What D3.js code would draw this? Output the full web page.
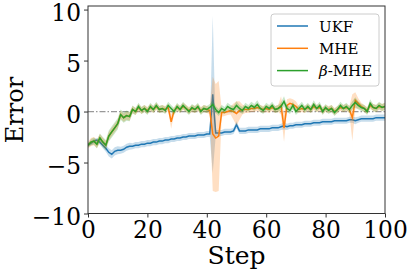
<!DOCTYPE html>
<html><head><meta charset="utf-8">
<script src="https://cdn.jsdelivr.net/npm/d3@7"></script>
<style>body{margin:0;background:#fff}svg{display:block}</style>
</head><body>
<script>
const steps = d3.range(0, 101);
const ukfMean = [-3.3,-3.1,-2.9,-2.8,-3.0,-3.3,-3.6,-4.0,-4.2,-3.9,-3.8,-3.8,-3.7,-3.5,-3.4,-3.4,-3.3,-3.3,-3.2,-3.2,
 -3.1,-3.1,-3.0,-3.0,-2.9,-2.9,-2.8,-2.8,-2.7,-2.7,-2.6,-2.6,-2.5,-2.5,-2.4,-2.4,-2.4,-2.3,-2.3,-2.3,
 -2.2,-2.2,1.7,-2.1,-2.1,-2.1,-2.0,-2.0,-2.0,-1.9,-1.3,-1.9,-1.9,-1.9,-1.8,-1.8,-1.8,-1.8,-1.7,-1.7,
 -1.7,-1.7,-1.6,-1.6,-1.6,-1.5,-1.4,-1.5,-1.4,-1.4,-1.3,-1.3,-1.3,-1.2,-1.2,-1.2,-1.1,-1.1,-1.1,-1.0,
 -1.0,-1.0,-1.0,-0.9,-0.9,-0.9,-0.9,-0.9,-0.8,-0.8,-0.9,-0.8,-0.7,-0.7,-0.7,-0.7,-0.7,-0.6,-0.6,-0.6,-0.6];
const ukfSpread = [0.2,0.2,0.2,0.2,0.25,0.3,0.35,0.4,0.4,0.4,0.4,0.35,0.35,0.35,0.35,0.3,0.3,0.3,0.3,0.3,
 0.3,0.3,0.3,0.3,0.3,0.3,0.3,0.3,0.3,0.3,0.3,0.3,0.3,0.3,0.3,0.3,0.3,0.3,0.3,0.3,
 0.3,0.3,7.7,0.3,0.3,0.3,0.3,0.3,0.3,0.3,0.35,0.3,0.3,0.3,0.3,0.3,0.3,0.3,0.3,0.3,
 0.3,0.3,0.3,0.3,0.3,0.3,0.35,0.3,0.3,0.3,0.3,0.3,0.3,0.3,0.3,0.3,0.3,0.3,0.3,0.3,
 0.3,0.3,0.3,0.3,0.3,0.3,0.3,0.3,0.3,0.3,0.35,0.3,0.3,0.3,0.3,0.3,0.3,0.3,0.3,0.3,0.3];
const mheMean = [-3.3,-3.0,-2.9,-3.2,-2.6,-3.0,-3.3,-2.4,-2.0,-1.6,-1.2,-0.3,-0.6,-0.4,-0.5,0.2,0.0,0.4,0.1,0.3,
 0.1,0.4,0.2,0.5,0.2,0.3,0.2,0.4,-1.0,0.1,0.4,0.2,0.5,0.3,0.1,0.3,0.2,0.4,0.1,0.3,
 0.2,0.1,-2.2,-2.6,-2.4,-0.1,-0.1,0.0,0.1,0.0,-0.2,0.1,0.2,0.2,0.2,0.3,0.3,0.4,0.3,0.2,
 0.3,0.2,0.4,0.2,0.3,0.6,-1.6,0.6,0.8,0.7,0.5,0.2,0.3,0.2,0.4,0.2,0.5,0.3,0.4,0.1,
 0.3,0.2,0.3,0.0,0.2,0.4,0.3,0.4,0.2,-0.6,1.1,0.8,0.5,0.3,0.1,0.6,0.4,0.3,0.5,0.4,0.5];
const mheSpread = [0.3,0.4,0.4,0.4,0.4,0.4,0.4,0.4,0.4,0.4,0.4,0.4,0.4,0.4,0.4,0.35,0.35,0.35,0.35,0.35,
 0.35,0.35,0.35,0.35,0.35,0.35,0.35,0.35,0.7,0.35,0.35,0.35,0.35,0.35,0.35,0.35,0.35,0.35,0.35,0.35,
 0.35,0.35,5.6,5.3,5.4,0.4,0.35,0.35,0.4,0.8,1.2,0.9,0.5,0.35,0.35,0.35,0.35,0.35,0.35,0.35,
 0.35,0.35,0.35,0.35,0.35,0.9,1.4,0.6,0.5,0.5,0.5,0.35,0.35,0.35,0.35,0.35,0.35,0.35,0.35,0.35,
 0.35,0.35,0.35,0.35,0.35,0.35,0.35,0.35,0.35,2.3,0.8,0.5,0.35,0.35,0.35,0.35,0.35,0.35,0.35,0.35,0.35];
const betaMean = [-3.3,-3.0,-2.9,-3.2,-2.6,-3.0,-3.3,-2.4,-2.0,-1.6,-1.2,-0.3,-0.6,-0.4,-0.5,0.2,0.0,0.5,0.1,0.3,
 0.0,0.5,0.2,0.6,0.2,0.3,0.1,0.6,0.3,0.0,0.5,0.2,0.6,0.3,0.0,0.4,0.2,0.5,0.0,0.3,
 0.2,0.4,0.7,0.2,-0.1,0.3,0.1,0.5,0.3,0.2,0.6,0.3,0.1,0.5,0.3,0.6,0.4,0.7,0.3,0.1,
 0.5,0.3,0.6,0.2,0.3,0.5,1.0,0.3,0.1,0.6,0.0,0.3,0.6,0.2,0.5,0.2,0.7,0.3,0.6,0.0,
 0.4,0.1,0.3,-0.1,0.2,0.6,0.3,0.5,0.2,0.6,0.9,0.6,0.4,0.3,0.0,0.8,0.4,0.3,0.6,0.4,0.5];
const betaSpread = [0.2,0.3,0.35,0.4,0.45,0.5,0.5,0.55,0.55,0.55,0.55,0.5,0.5,0.5,0.45,0.4,0.35,0.35,0.35,0.35,
 0.35,0.35,0.35,0.35,0.35,0.35,0.35,0.35,0.35,0.35,0.35,0.35,0.35,0.35,0.35,0.35,0.35,0.35,0.35,0.35,
 0.35,0.35,0.4,0.35,0.35,0.35,0.35,0.35,0.35,0.35,0.4,0.35,0.35,0.35,0.35,0.35,0.35,0.4,0.35,0.35,
 0.35,0.35,0.35,0.35,0.35,0.4,0.5,0.35,0.35,0.35,0.35,0.35,0.35,0.35,0.35,0.35,0.4,0.35,0.35,0.35,
 0.35,0.35,0.35,0.35,0.35,0.35,0.35,0.35,0.35,0.4,0.5,0.4,0.35,0.35,0.35,0.4,0.35,0.35,0.35,0.35,0.35];
const xTicks = [0, 20, 40, 60, 80, 100];
const yTicks = [-10, -5, 0, 5, 10];
const seriesNames = ["UKF", "MHE", "β-MHE"];
const colors = ["#1f77b4", "#ff7f0e", "#2ca02c"];

const W = 407, H = 274;
const svg = d3.select("body").append("svg").attr("width", W).attr("height", H);
const x = d3.scaleLinear().domain([0, 100]).range([88, 385]);
const y = d3.scaleLinear().domain([-10, 10.35]).range([213.5, 6]);
const font = "'DejaVu Serif', serif";

svg.append("clipPath").attr("id", "clip").append("rect")
  .attr("x", 88).attr("y", 6).attr("width", 297).attr("height", 207.5);
const plot = svg.append("g").attr("clip-path", "url(#clip)");

plot.append("line").attr("x1", 88).attr("x2", 385).attr("y1", y(0)).attr("y2", y(0))
  .attr("stroke", "#999").attr("stroke-width", 1.2).attr("stroke-dasharray", "6,2,1.5,2");

const series = [[ukfMean, ukfSpread], [mheMean, mheSpread], [betaMean, betaSpread]];
series.forEach(([m, s], i) => {
  const area = d3.area().x((d, j) => x(steps[j])).y0((d, j) => y(m[j] - s[j])).y1((d, j) => y(m[j] + s[j]));
  plot.append("path").attr("d", area(m)).attr("fill", colors[i]).attr("fill-opacity", 0.25).attr("stroke", "none");
  const line = d3.line().x((d, j) => x(steps[j])).y(d => y(d));
  plot.append("path").attr("d", line(m)).attr("fill", "none").attr("stroke", colors[i]).attr("stroke-width", 1.5);
});

const xAxis = svg.append("g").attr("transform", "translate(0,213.5)")
  .call(d3.axisBottom(x).tickValues(xTicks).tickSize(4).tickPadding(3));
const yAxis = svg.append("g").attr("transform", "translate(88,0)")
  .call(d3.axisLeft(y).tickValues(yTicks).tickSize(4).tickPadding(3).tickFormat(d => d < 0 ? "−" + Math.abs(d) : d));
[xAxis, yAxis].forEach(a => {
  a.selectAll("text").attr("font-family", font).attr("font-size", 23.3).attr("fill", "#000");
  a.selectAll("line").attr("stroke", "#333").attr("stroke-width", 1);
  a.select(".domain").remove();
});
xAxis.selectAll("text").attr("dy", "0.76em");
yAxis.selectAll("text").attr("dy", "0.45em");
svg.append("rect").attr("x", 88).attr("y", 6).attr("width", 297).attr("height", 207.5)
  .attr("fill", "none").attr("stroke", "#333").attr("stroke-width", 1);

svg.append("text").attr("x", 236.5).attr("y", 264).attr("text-anchor", "middle")
  .attr("font-family", font).attr("font-size", 25).text("Step");
svg.append("text").attr("transform", "translate(22.5,110) rotate(-90)").attr("text-anchor", "middle")
  .attr("font-family", font).attr("font-size", 24).text("Error");

const lg = svg.append("g");
lg.append("rect").attr("x", 271).attr("y", 14).attr("width", 108).attr("height", 72).attr("rx", 3)
  .attr("fill", "#fff").attr("fill-opacity", 0.8).attr("stroke", "#ccc").attr("stroke-width", 1);
seriesNames.forEach((n, i) => {
  const yy = 26 + i * 22.3;
  lg.append("line").attr("x1", 277).attr("x2", 308).attr("y1", yy).attr("y2", yy)
    .attr("stroke", colors[i]).attr("stroke-width", 1.5);
  const t = lg.append("text").attr("x", 319).attr("y", yy + 5.5).attr("font-family", font).attr("font-size", 15);
  if (n.startsWith("β")) {
    t.append("tspan").attr("font-style", "italic").text("β");
    t.append("tspan").text(n.slice(1));
  } else t.text(n);
});
</script>
</body></html>
